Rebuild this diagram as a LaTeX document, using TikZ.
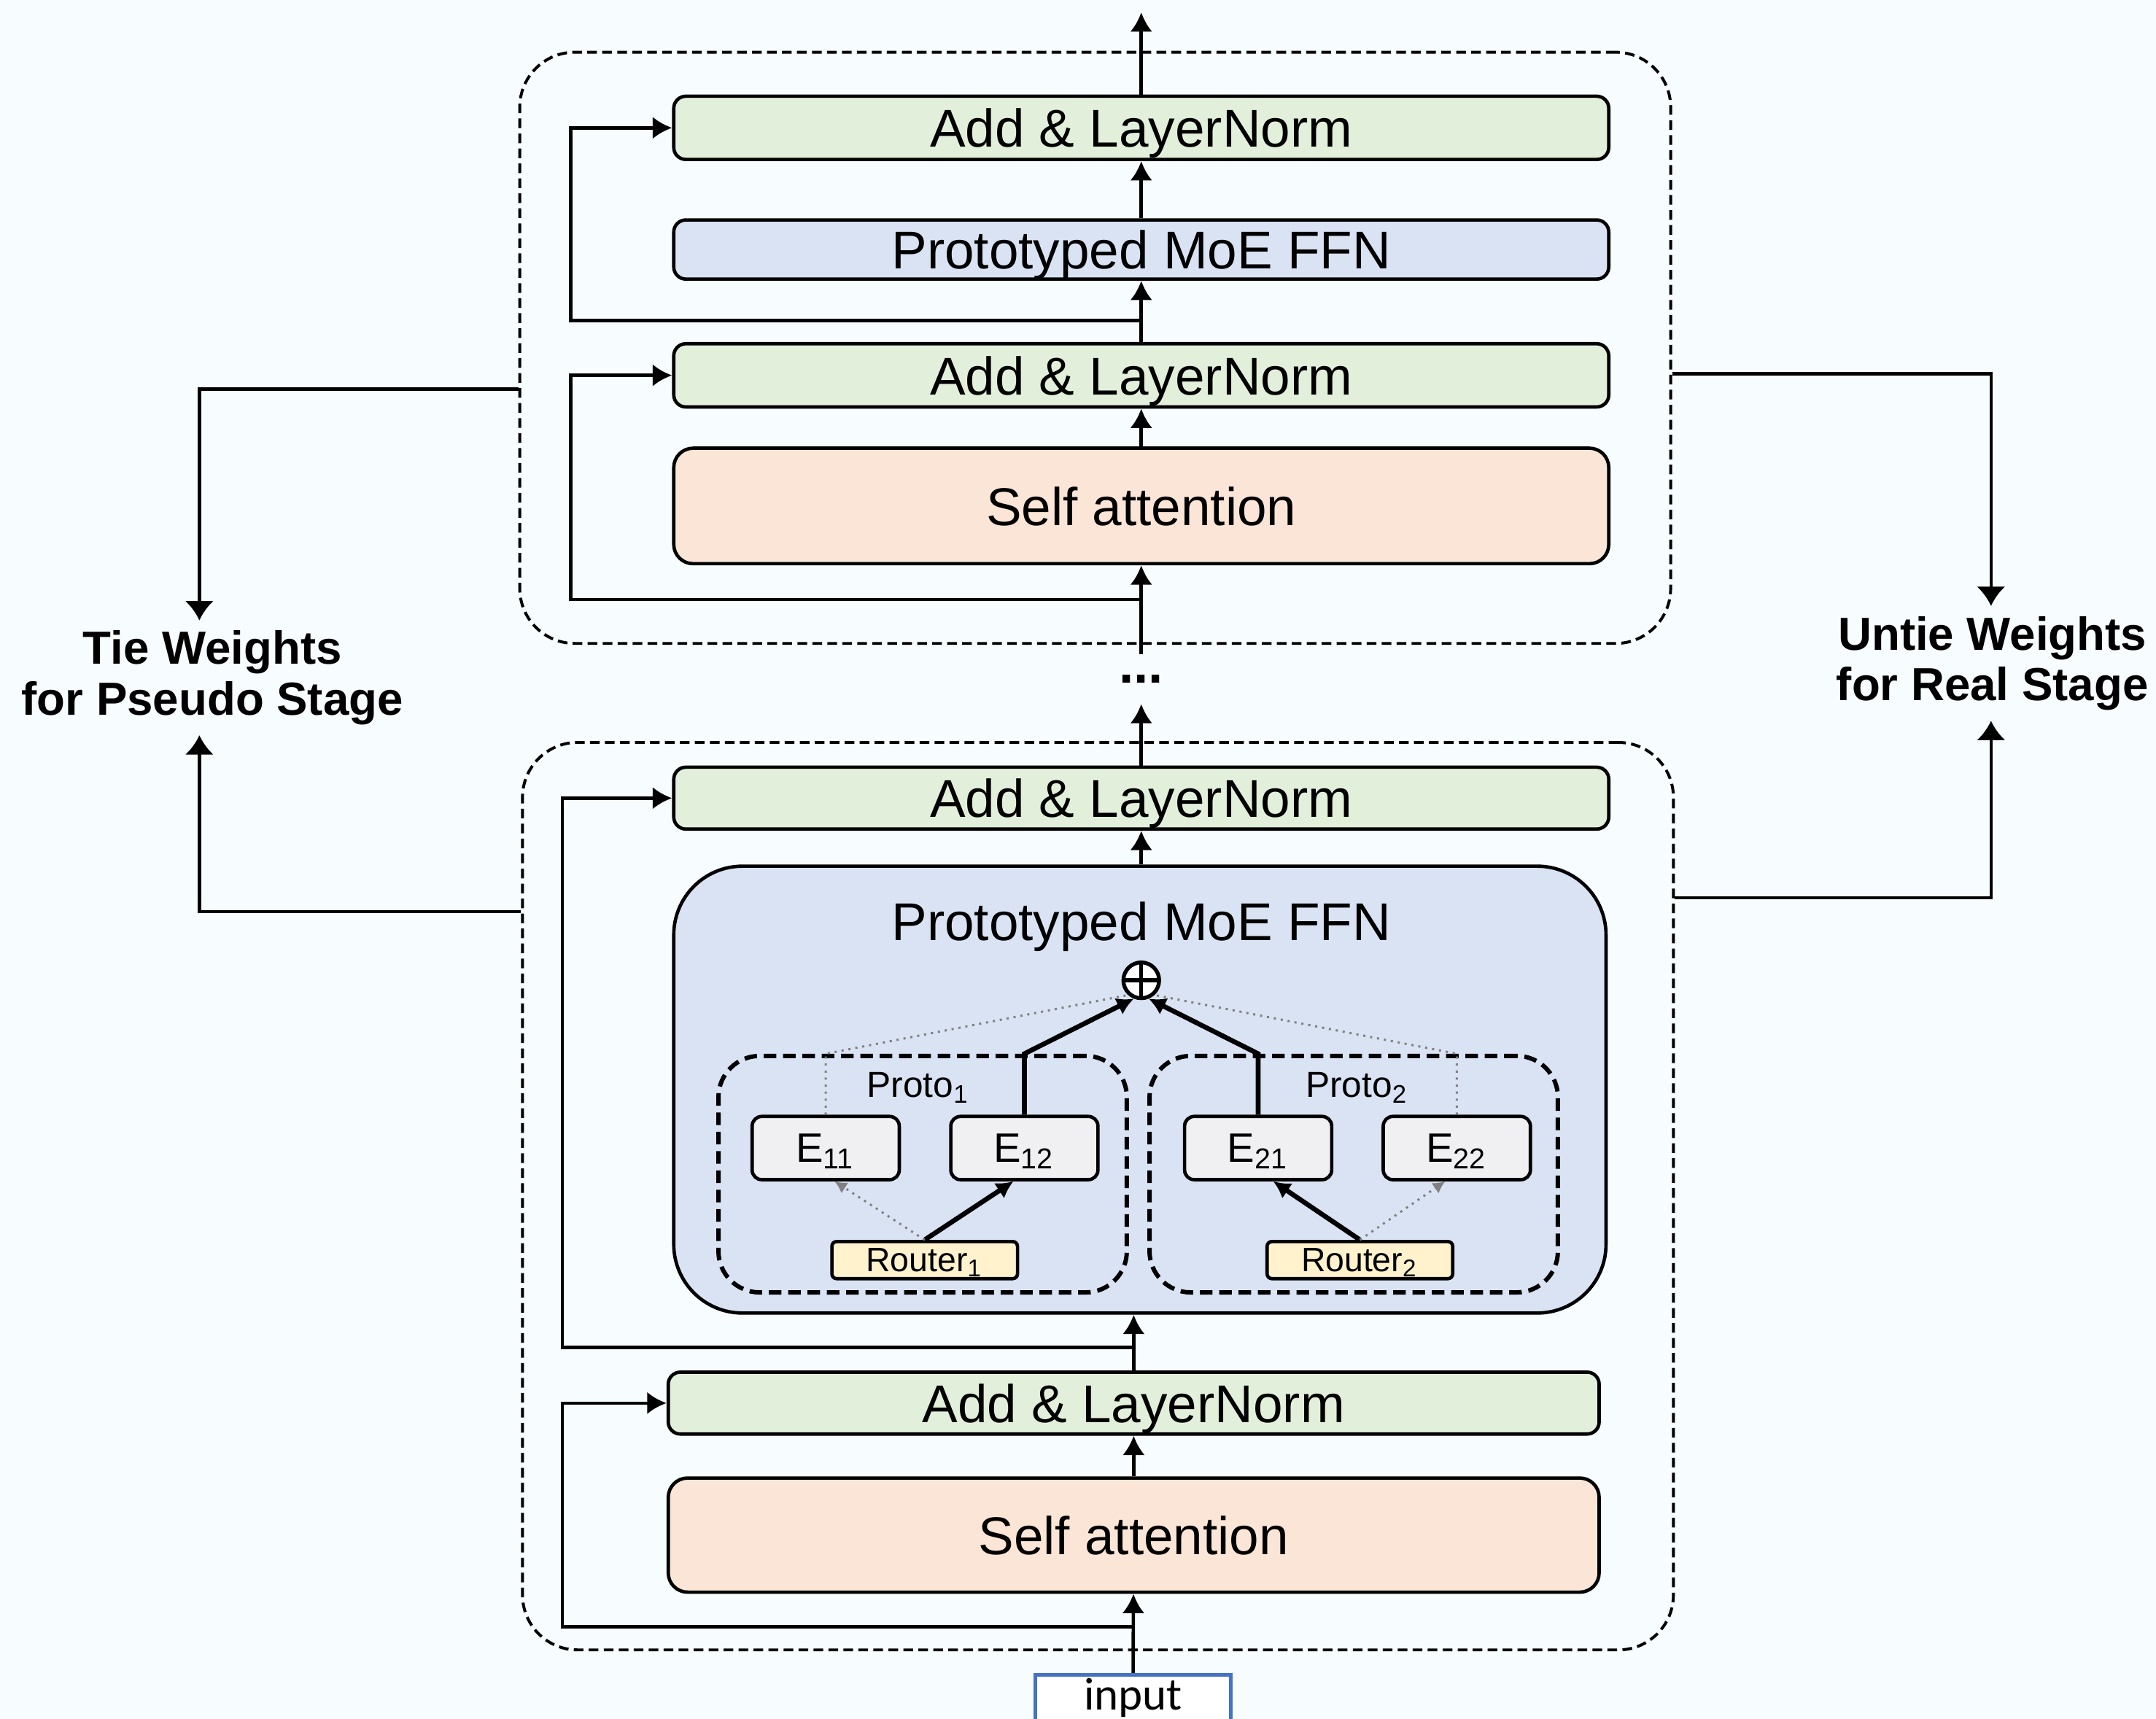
\documentclass[tikz,border=0pt]{standalone}
\usepackage{fontspec}
\setmainfont{Liberation Sans}
\newfontfamily\inputfont{Carlito}
\usetikzlibrary{arrows.meta,calc}
\definecolor{pagebg}{HTML}{F7FCFE}
\definecolor{normgreen}{HTML}{E2EFDA}
\definecolor{ffnblue}{HTML}{DAE3F3}
\definecolor{attnpink}{HTML}{FBE5D6}
\definecolor{routeryellow}{HTML}{FFF2CC}
\definecolor{expertgray}{HTML}{F0F0F2}
\definecolor{inputblue}{HTML}{4472C4}
\tikzset{
  >={Latex[length=4pt,width=4.6pt]},
  layer/.style={draw,rounded corners=2.5pt,inner sep=0pt,minimum width=6.8cm,
    text depth=0pt,font=\fontsize{11}{13}\selectfont},
  normbox/.style={layer,fill=normgreen,minimum height=0.46cm},
  ffnbox/.style={layer,fill=ffnblue,minimum height=0.43cm},
  attnbox/.style={layer,fill=attnpink,minimum height=0.84cm,rounded corners=4pt},
  stagebox/.style={draw,line width=0.6pt,dash pattern=on 2pt off 1.1pt,
    rounded corners=0.4cm,minimum width=8.37cm},
  protobox/.style={draw,line width=0.9pt,dash pattern=on 2.6pt off 1.4pt,
    rounded corners=0.3cm,minimum width=2.97cm,minimum height=1.72cm},
  expert/.style={draw,fill=expertgray,rounded corners=2pt,inner sep=0pt,text depth=0pt,
    minimum width=1.07cm,minimum height=0.46cm,font=\fontsize{8.5}{9}\selectfont},
  router/.style={draw,fill=routeryellow,rounded corners=1pt,inner sep=0pt,text depth=0pt,
    minimum width=1.35cm,minimum height=0.27cm,font=\fontsize{7}{8}\selectfont},
  smalllabel/.style={font=\fontsize{7.5}{8}\selectfont},
  weightlabel/.style={align=center,inner sep=1.8pt,font=\fontsize{9.6}{10.5}\selectfont\bfseries},
  sidearrow/.style={-{Latex[length=4pt,width=6pt]}},
  picked/.style={line width=1pt,-{Latex[length=3.5pt,width=3.8pt]}},
  skipped/.style={densely dotted,gray,line width=0.45pt},
  skippedarrow/.style={skipped,-{Latex[length=2.5pt,width=2.6pt]}}
}

\begin{document}
\begin{tikzpicture}[line width=0.7pt]
  \fill[pagebg] (0,0) rectangle (15.68,12.5);
  \useasboundingbox (0,0) rectangle (15.68,12.5);
  % two stages
  \node[stagebox,minimum height=4.30cm] (upper) at (7.965,9.97) {};
  \node[stagebox,minimum height=6.60cm] (lower) at (7.985,3.80) {};
  % upper stage
  \node[normbox] (upnormb) at (8.30,11.57) {Add \& LayerNorm};
  \node[ffnbox] (upffn) at (8.30,10.685) {Prototyped MoE FFN};
  \node[normbox] (upnorma) at (8.30,9.77) {Add \& LayerNorm};
  \node[attnbox] (upattn) at (8.30,8.82) {Self attention};
  % lower stage
  \node[normbox,minimum height=0.45cm] (lonormb) at (8.30,6.695) {Add \& LayerNorm};
  \node[draw,fill=ffnblue,rounded corners=0.5cm,minimum width=6.78cm,
    minimum height=3.25cm] (loffn) at (8.29,4.575) {};
  \node[font=\fontsize{11}{13}\selectfont] (ffntitle) at (8.30,5.76) {Prototyped MoE FFN};
  \node[normbox,minimum width=6.77cm,minimum height=0.45cm] (lonorma) at (8.245,2.295) {Add \& LayerNorm};
  \node[attnbox,minimum width=6.77cm,minimum height=0.83cm] (loattn) at (8.245,1.335) {Self attention};
  \node[draw=inputblue,fill=white,inner sep=0pt,minimum width=1.42cm,minimum height=0.34cm,
    font=\inputfont\fontsize{9.5}{10}\selectfont] (input) at (8.24,0.15) {input};
  % prototypes
  \node[protobox] (proto1) at (6.71,3.96) {};
  \node[protobox] (proto2) at (9.845,3.96) {};
  \node[smalllabel] (protolab1) at (6.68,4.59) {Proto\textsubscript{1}};
  \node[smalllabel] (protolab2) at (9.87,4.59) {Proto\textsubscript{2}};
  \node[expert] (e11) at (6.005,4.15) {E\textsubscript{11}};
  \node[expert] (e12) at (7.45,4.15) {E\textsubscript{12}};
  \node[expert] (e21) at (9.15,4.15) {E\textsubscript{21}};
  \node[expert] (e22) at (10.595,4.15) {E\textsubscript{22}};
  \node[router] (rt1) at (6.725,3.335) {Router\textsubscript{1}};
  \node[router] (rt2) at (9.89,3.335) {Router\textsubscript{2}};
  \node[circle,draw,fill=white,inner sep=0pt,minimum size=0.26cm,line width=0.8pt,
    path picture={\draw (path picture bounding box.north) -- (path picture bounding box.south)
      (path picture bounding box.west) -- (path picture bounding box.east);}] (plus) at (8.30,5.37) {};
  \draw[skipped] (e11.north) -- (e11.north |- proto1.north) -- (plus.-132);
  \draw[picked] (e12.north) -- (e12.north |- proto1.north) -- (plus.-112);
  \draw[picked] (e21.north) -- (e21.north |- proto2.north) -- (plus.-68);
  \draw[skipped] (e22.north) -- (e22.north |- proto2.north) -- (plus.-48);
  \draw[picked] (rt1.north) -- ([xshift=-0.08cm]e12.south);
  \draw[skippedarrow] (rt1.north) -- ([xshift=0.065cm]e11.south);
  \draw[picked] (rt2.north) -- ([xshift=0.11cm]e21.south);
  \draw[skippedarrow] (rt2.north) -- ([xshift=-0.085cm]e22.south);
  % main flow
  \draw[->] (input) -- (loattn);
  \draw[->] (loattn) -- (lonorma);
  \draw[->] (lonorma.north) -- (lonorma.north |- loffn.south);
  \draw[->] (lonormb.south |- loffn.north) -- (lonormb.south);
  \coordinate (stageout) at (8.30,7.38);
  \coordinate (stagein) at (8.30,7.74);
  \coordinate (modelout) at (8.30,12.41);
  \draw[->] (lonormb.north) -- (stageout);
  \node[font=\fontsize{11}{13}\selectfont\bfseries] (dots) at (8.30,7.56) {...};
  \draw[->] (stagein) -- (upattn.south);
  \draw[->] (upattn) -- (upnorma);
  \draw[->] (upnorma) -- (upffn);
  \draw[->] (upffn) -- (upnormb);
  \draw[->] (upnormb.north) -- (modelout);
  % residuals
  \coordinate (resup) at (4.15,0);
  \coordinate (reslo) at (4.09,0);
  \coordinate (split1) at (8.30,10.17);
  \coordinate (split2) at (8.30,8.14);
  \coordinate (split3) at (8.245,2.70);
  \coordinate (split4) at (8.245,0.67);
  \draw[->] (split1) -| (upnormb.west -| resup) -- (upnormb.west);
  \draw[->] (split2) -| (upnorma.west -| resup) -- (upnorma.west);
  \draw[->] (split3) -| (lonormb.west -| reslo) -- (lonormb.west);
  \draw[->] (split4) -| (lonorma.west -| reslo) -- (lonorma.west);
  % tie / untie
  \node[weightlabel] (tie) at (1.545,7.57) {Tie Weights\\for Pseudo Stage};
  \node[weightlabel] (untie) at (14.49,7.675) {Untie Weights\\for Real Stage};
  \coordinate (tiex) at (1.45,0);
  \coordinate (untiex) at (14.48,0);
  \draw[sidearrow] ([yshift=-0.30cm]upper.west) -| (tie.north -| tiex);
  \draw[sidearrow] ([yshift=2.07cm]lower.west) -| (tie.south -| tiex);
  \draw[sidearrow] ([yshift=-0.19cm]upper.east) -| (untie.north -| untiex);
  \draw[sidearrow] ([yshift=2.17cm]lower.east) -| (untie.south -| untiex);
\end{tikzpicture}
\end{document}
